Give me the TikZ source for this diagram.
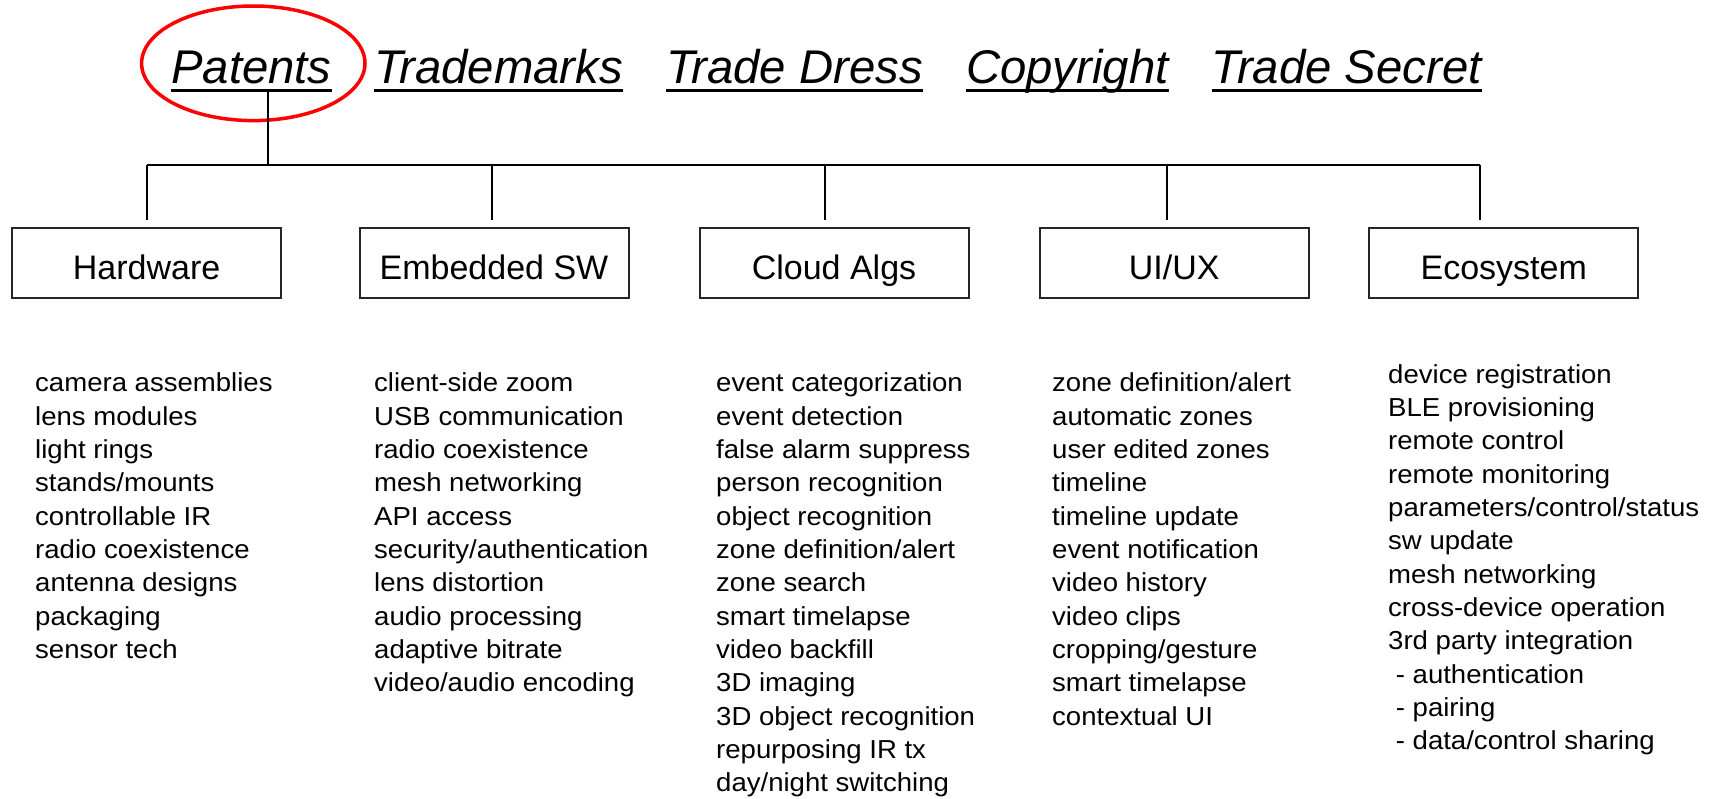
\documentclass[tikz,border=0pt]{standalone}
\usepackage{fontspec}
\setmainfont{Liberation Sans}
\newfontfamily\bodyfont{Liberation Sans}[FakeStretch=1.06]
\usetikzlibrary{calc}
\begin{document}
\begin{tikzpicture}[x=1pt,y=-1pt,
  title/.style={anchor=base west,inner sep=0pt,font=\fontsize{47.3}{56}\selectfont\itshape},
  uline/.style={line width=3.5pt,black},
  catbox/.style={draw=black!85,line width=2pt,minimum width=269pt,minimum height=70pt,inner sep=0pt,text height=33pt,text depth=0pt,font=\fontsize{34}{40}\selectfont},
  item/.style={anchor=base west,inner sep=0pt,font=\bodyfont\fontsize{26}{30}\selectfont},
  conn/.style={line width=2pt,black},
  oval/.style={red,line width=3.5pt}]
\useasboundingbox (0,0) rectangle (1721,798);

% titles
\node[title] (pat) at (171,83) {Patents};
\node[title] (tm) at (374,83) {Trademarks};
\node[title] (td) at (666,83) {Trade Dress};
\node[title] (cr) at (966,83) {Copyright};
\node[title] (ts) at (1211.5,83) {Trade Secret};
\foreach \n in {pat,tm,td,cr,ts}
  \draw[uline] ($(\n.base west)+(0,7.5)$) -- ($(\n.base east)+(0,7.5)$);

\draw[oval] (253.3,63.3) ellipse [x radius=111.7, y radius=57.3];

% category boxes
\node[catbox] (hw) at (146.6,263.3) {Hardware};
\node[catbox] (es) at (494,263.3) {Embedded SW};
\node[catbox] (ca) at (834,263.3) {Cloud Algs};
\node[catbox] (ui) at (1174.2,263.3) {UI/UX};
\node[catbox] (eco) at (1503.7,263.3) {Ecosystem};

% connectors
\coordinate (pdrop) at (267.7,92);
\coordinate (bl) at (147.3,165);
\coordinate (br) at (1480,165);
\draw[conn] (pdrop) -- (pdrop |- bl);
\draw[conn] (bl) -- (br);
\coordinate (d1) at (147.3,165);
\coordinate (d2) at (492,165);
\coordinate (d3) at (825.4,165);
\coordinate (d4) at (1167.4,165);
\coordinate (d5) at (1480,165);
\draw[conn] (d1) -- ($(d1 |- hw.north)+(0,-7)$);
\draw[conn] (d2) -- ($(d2 |- es.north)+(0,-7)$);
\draw[conn] (d3) -- ($(d3 |- ca.north)+(0,-7)$);
\draw[conn] (d4) -- ($(d4 |- ui.north)+(0,-7)$);
\draw[conn] (d5) -- ($(d5 |- eco.north)+(0,-7)$);

% lists
\foreach [count=\i] \t in {camera assemblies, lens modules, light rings, stands/mounts, controllable IR, radio coexistence, antenna designs, packaging, sensor tech}
  \node[item] (hwi\i) at (35,391.7+33.33*\i-33.33) {\t};
\foreach [count=\i] \t in {client-side zoom, USB communication, radio coexistence, mesh networking, API access, security/authentication, lens distortion, audio processing, adaptive bitrate, video/audio encoding}
  \node[item] (esi\i) at (374,391.7+33.33*\i-33.33) {\t};
\foreach [count=\i] \t in {event categorization, event detection, false alarm suppress, person recognition, object recognition, zone definition/alert, zone search, smart timelapse, video backfill, 3D imaging, 3D object recognition, repurposing IR tx, day/night switching}
  \node[item] (cai\i) at (716,391.7+33.33*\i-33.33) {\t};
\foreach [count=\i] \t in {zone definition/alert, automatic zones, user edited zones, timeline, timeline update, event notification, video history, video clips, cropping/gesture, smart timelapse, contextual UI}
  \node[item] (uii\i) at (1052,391.7+33.33*\i-33.33) {\t};
\foreach [count=\i] \t in {device registration, BLE provisioning, remote control, remote monitoring, parameters/control/status, sw update, mesh networking, cross-device operation, 3rd party integration, {\ - authentication}, {\ - pairing}, {\ - data/control sharing}}
  \node[item] (ecoi\i) at (1388,383.3+33.33*\i-33.33) {\t};
\end{tikzpicture}
\end{document}
